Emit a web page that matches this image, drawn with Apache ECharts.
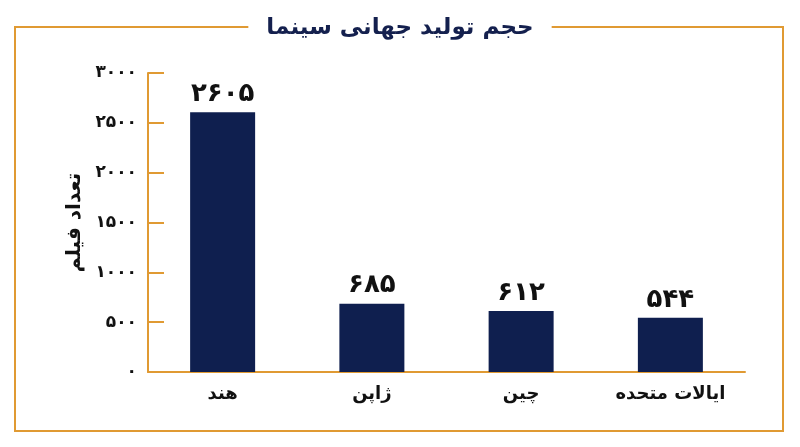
<!DOCTYPE html>
<html><head><meta charset="utf-8">
<script src="https://cdn.jsdelivr.net/npm/echarts@6/dist/echarts.min.js"></script>
<style>html,body{margin:0;padding:0;background:#fff}#c{width:800px;height:447px}</style>
</head><body><div id="c"></div>
<script>
var categories = ['هند', 'ژاپن', 'چین', 'ایالات متحده'];
var values = [2605, 685, 612, 544];
var titleText = 'حجم تولید جهانی سینما';
var yName = 'تعداد فیلم';

function fa(n){ return String(n).replace(/[0-9]/g, function(d){ return '۰۱۲۳۴۵۶۷۸۹'[+d]; }); }
var gold = '#e09a33';
var font = '"DejaVu Sans", "Noto Sans", sans-serif';
var chart = echarts.init(document.getElementById('c'));
chart.setOption({
  animation: false,
  backgroundColor: '#fff',
  graphic: [{ type: 'rect', shape: { x: 15, y: 27, width: 768, height: 404 }, style: { fill: 'none', stroke: gold, lineWidth: 2 }, z: 0 }],
  title: { text: titleText, left: 'center', top: 15, padding: [2, 18], backgroundColor: '#fff',
    textStyle: { fontFamily: font, fontSize: 23, fontWeight: 'bold', color: '#14204e' } },
  grid: { left: 148, right: 55, top: 73, bottom: 75 },
  xAxis: { type: 'category', data: categories,
    axisLine: { lineStyle: { color: gold, width: 2 } },
    axisTick: { inside: true, length: 9, lineStyle: { color: gold, width: 1.5 } },
    axisLabel: { margin: 13, fontFamily: font, fontSize: 18, fontWeight: 'bold', color: '#111' } },
  yAxis: { type: 'value', min: 0, max: 3000, interval: 500, name: yName, nameLocation: 'middle', nameGap: 62, nameRotate: 90,
    nameTextStyle: { fontFamily: font, fontSize: 20, fontWeight: 'bold', color: '#111' },
    splitLine: { show: false },
    axisLine: { show: true, lineStyle: { color: gold, width: 2 } },
    axisTick: { show: true, inside: true, length: 16, lineStyle: { color: gold, width: 2 } },
    axisLabel: { margin: 11, fontFamily: font, fontSize: 17, fontWeight: 'bold', color: '#111', formatter: function(v){ return fa(v); } } },
  series: [{ type: 'bar', data: values, barWidth: 65, itemStyle: { color: '#0f1f4f' },
    label: { show: true, position: 'top', distance: 5, fontFamily: font, fontSize: 26, fontWeight: 'bold', color: '#111', formatter: function(p){ return fa(p.value); } } }]
});
</script></body></html>
